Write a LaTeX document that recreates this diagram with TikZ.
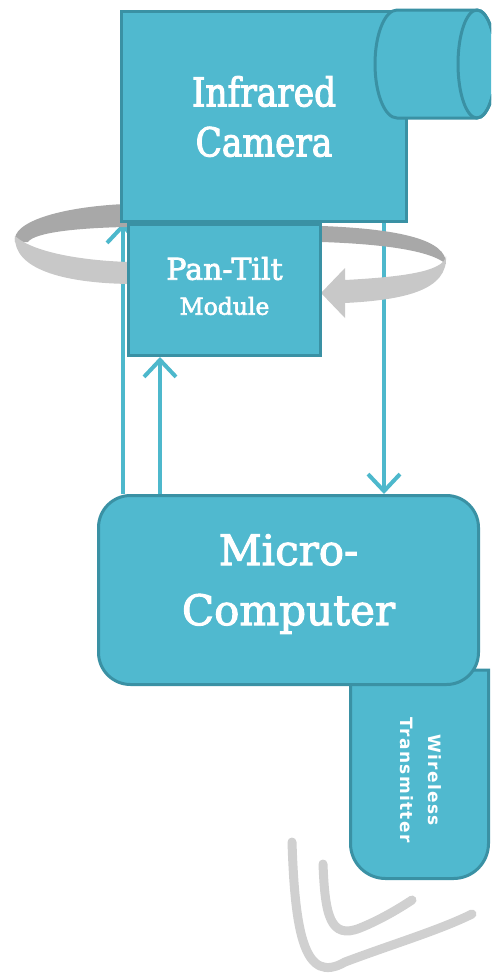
\documentclass[tikz,border=0pt]{standalone}
\usepackage{fontspec}
\setmainfont{DejaVu Serif}[FakeBold=2.5]
\newfontfamily\camfont[FakeStretch=0.86,FakeBold=2.5]{DejaVu Serif}
\newfontfamily\wfont[LetterSpace=8]{DejaVu Sans Bold}
\usetikzlibrary{arrows.meta}
\definecolor{tealfill}{HTML}{50B9CF}
\definecolor{tealedge}{HTML}{3A91A4}
\definecolor{tealline}{HTML}{4DB8CC}
\definecolor{ringdark}{HTML}{A8A8A8}
\definecolor{ringlight}{HTML}{C8C8C8}
\definecolor{sigcol}{HTML}{D0D0D0}
\pgfdeclarelayer{bg}
\pgfsetlayers{bg,main}
\tikzset{
  box/.style={draw=tealedge, fill=tealfill, line width=3pt, inner sep=0pt, text=white, align=center},
  link/.style={draw=tealline, line width=4pt, -{Straight Barb[length=17pt,width=32pt]}},
  signal/.style={draw=sigcol, line width=9pt, line cap=round}
}
\begin{document}
\begin{tikzpicture}[x=1pt,y=-1pt]
\useasboundingbox (0,0) rectangle (491,980);
\clip (0,0) rectangle (491,980);

% wireless transmitter (behind micro-computer)
\draw[tealedge, fill=tealfill, line width=3pt]
  (350.5,670) -- (350.5,843.5) arc[start angle=180, end angle=90, radius=35]
  -- (453.5,878.5) arc[start angle=90, end angle=0, radius=35]
  -- (488.5,670) -- cycle;
\node[text=white, rotate=-90, align=center, font=\wfont\fontsize{17}{28}\selectfont] (wt) at (421,780) {Wireless\\Transmitter};

% camera body
\node[box, minimum width=285pt, minimum height=210pt, font=\camfont\fontsize{40}{50}\selectfont] (cam) at (264,116.5) {Infrared\\Camera};
% lens cylinder
\draw[tealedge, fill=tealfill, line width=3pt]
  (397,10) -- (477,10) arc[start angle=270, end angle=450, x radius=19, y radius=54]
  -- (397,118) arc[start angle=90, end angle=270, x radius=22, y radius=54] -- cycle;
\draw[tealedge, line width=3pt] (477,64) ellipse[x radius=19, y radius=54];

% pan-tilt module
\node[box, minimum width=192pt, minimum height=131pt] (pt) at (224.5,290) {};
\node[text=white, align=center, font=\fontsize{30}{38}\selectfont] (pttext) at (224.5,286) {Pan-Tilt\\[-3pt]{\fontsize{23.5}{30}\selectfont Module}};

% micro-computer
\node[box, rounded corners=32pt, minimum width=380pt, minimum height=189pt] (mc) at (288.5,590) {};
\node[text=white, align=center, font=\fontsize{42}{60}\selectfont] (mctext) at (288.5,584) {Micro-\\Computer};

% connectors and rotation ring behind the boxes
\begin{pgfonlayer}{bg}
\draw[link] (mc.north -| 123,0) -- (cam.south -| 123,0);
\draw[link] (mc.north -| 160,0) -- (pt.south -| 160,0);
\draw[link] (cam.south -| 384,0) -- (mc.north -| 384,0);

\fill[ringdark]
  (15,242) .. controls (11,222) and (60,207) .. (125,204) -- (322,226)
  .. controls (400,229) and (447,240) .. (446,264)
  .. controls (430,250) and (380,244) .. (322,242) -- (125,227)
  .. controls (80,228) and (35,232) .. (28,242) -- cycle;
\fill[ringlight]
  (15,236) .. controls (35,254) and (90,261) .. (130,262) -- (130,284)
  .. controls (60,283) and (13,268) .. (15,236) -- cycle;
\fill[ringlight]
  (446,256) .. controls (444,272) and (400,277) .. (345,280) -- (345,268)
  -- (321,293) -- (345,318) -- (345,303)
  .. controls (405,300) and (448,290) .. (446,256) -- cycle;
\end{pgfonlayer}

% wireless signal arcs
\draw[signal] (292,842) .. controls (295,935) and (305,985) .. (345,962) .. controls (390,945) and (440,930) .. (472,914);
\draw[signal] (323,864) .. controls (325,915) and (330,940) .. (360,928) .. controls (380,920) and (400,908) .. (412,900);
\end{tikzpicture}
\end{document}
